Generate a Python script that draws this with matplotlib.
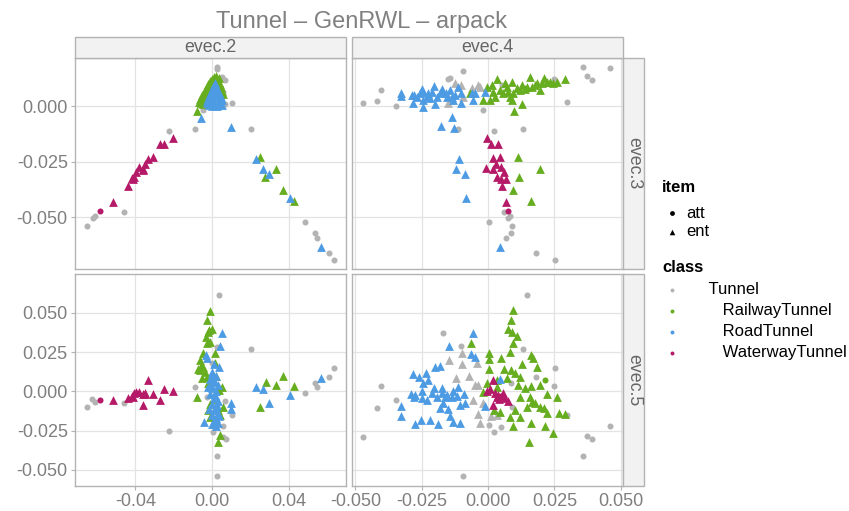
import matplotlib
matplotlib.use("Agg")
import matplotlib.pyplot as plt
from matplotlib.patches import Rectangle
import numpy as np

plt.rcParams['font.family'] = ['Liberation Sans', 'DejaVu Sans']

TITLE = "Tunnel – GenRWL – arpack"
COL_VARS = ["evec.2", "evec.4"]
ROW_VARS = ["evec.3", "evec.5"]
CLASSES = ["Tunnel", "RailwayTunnel", "RoadTunnel", "WaterwayTunnel"]
CLASS_LABELS = ["      Tunnel", "         RailwayTunnel", "         RoadTunnel", "         WaterwayTunnel"]
CLASS_COLORS = ["#B3B3B3", "#66AD1F", "#4D9BE3", "#B51A68"]
ITEMS = ["att", "ent"]

XTICKS_L = [-0.04, 0.00, 0.04]
XTICKS_R = [-0.050, -0.025, 0.000, 0.025, 0.050]
YTICKS_T = [-0.050, -0.025, 0.000]
YTICKS_B = [-0.050, -0.025, 0.000, 0.025, 0.050]

# ---------------- evec.2 (x) vs evec.3 (y) ----------------
E23_TUNNEL_ATT = [(-0.0653, -0.0541), (-0.0618, -0.0502), (-0.061, -0.0494), (-0.0457, -0.0478),
                  (-0.0225, -0.0113), (-0.0092, -0.0104), (-0.0048, -0.0018), (0.0024, 0.0177),
                  (0.0026, 0.0167), (0.005, 0.0132), (0.0067, 0.0117), (0.0057, 0.0064),
                  (0.0102, 0.0015), (0.0067, 0.0009), (0.0203, -0.0104), (0.0481, -0.0523),
                  (0.0533, -0.0572), (0.0546, -0.0595), (0.0606, -0.0662), (0.0632, -0.0692)]
E23_RAIL_ENT = [(-0.0070, 0.0020), (-0.0062, 0.0035), (-0.0055, 0.0050), (-0.0050, 0.0028),
                (-0.0045, 0.0062), (-0.0040, 0.0075), (-0.0035, 0.0045), (-0.0030, 0.0088),
                (-0.0025, 0.0060), (-0.0020, 0.0100), (-0.0015, 0.0080), (-0.0010, 0.0112),
                (-0.0005, 0.0095), (0.0000, 0.0125), (0.0005, 0.0105), (0.0010, 0.0132),
                (0.0015, 0.0118), (0.0020, 0.0138), (0.0025, 0.0122), (0.0030, 0.0110),
                (0.0035, 0.0128), (0.0040, 0.0100), (0.0045, 0.0085), (0.0050, 0.0070),
                (0.0055, 0.0055), (-0.0060, 0.0015), (-0.0048, 0.0012), (0.0002, 0.0070),
                (-0.0028, 0.0030), (0.0012, 0.0090), (0.0030, 0.0075), (0.0040, 0.0060),
                (-0.0010, 0.0050), (-0.0079, -0.0021), (0.0246, -0.0227), (0.0275, -0.032),
                (0.0331, -0.0282), (0.0365, -0.0377), (0.0426, -0.0427)]
E23_ROAD_ENT = [(0.0015, 0.0105), (0.0010, 0.0095), (0.0020, 0.0090), (0.0005, 0.0085),
                (0.0025, 0.0080), (0.0000, 0.0075), (0.0030, 0.0070), (-0.0005, 0.0065),
                (0.0035, 0.0060), (-0.0010, 0.0055), (0.0040, 0.0050), (-0.0015, 0.0045),
                (0.0045, 0.0040), (-0.0020, 0.0035), (0.0050, 0.0030), (-0.0025, 0.0025),
                (0.0010, 0.0040), (0.0020, 0.0050), (0.0000, 0.0030), (-0.0030, 0.0015),
                (0.0030, 0.0020), (0.0015, 0.0010), (-0.0008, 0.0012), (0.0040, 0.0010),
                (-0.0018, 0.0005), (0.0025, 0.0000), (0.0000, 0.0000), (0.0050, 0.0008),
                (-0.0058, -0.0051), (0.0097, -0.0095), (0.0225, -0.0237), (0.0265, -0.0282),
                (0.0294, -0.0303), (0.0402, -0.0415), (0.0565, -0.0632)]
E23_WATER_ATT = [(-0.0585, -0.0473)]
E23_WATER_ENT = [(-0.0516, -0.0431), (-0.0438, -0.0359), (-0.0417, -0.0324), (-0.0407, -0.0317),
                 (-0.0397, -0.0296), (-0.0381, -0.0272), (-0.0359, -0.0282), (-0.0348, -0.026),
                 (-0.0334, -0.0236), (-0.0307, -0.023), (-0.0272, -0.017), (-0.0249, -0.017),
                 (-0.0203, -0.0143), (-0.041, -0.0326), (-0.0362, -0.0287)]

# ---------------- evec.4 (x) vs evec.3 (y) ----------------
E43_TUNNEL_ATT = [(-0.0471, 0.0014), (-0.0417, 0.0023), (-0.0404, 0.0072), (-0.0347, 0.0),
                  (-0.0149, 0.0122), (-0.0143, 0.0126), (-0.0094, 0.0158), (-0.0113, -0.0104),
                  (-0.002, -0.0018), (0.0024, -0.0111), (0.0131, -0.0104), (0.0054, 0.0096),
                  (0.0296, 0.0018), (0.025, 0.0122), (0.036, 0.0176), (0.0372, 0.0135),
                  (0.0392, 0.0117), (0.0461, 0.0171), (0.0062, -0.0478), (0.0074, -0.0505),
                  (0.0084, -0.0494), (0.0004, -0.0523), (0.0089, -0.0539), (0.0085, -0.0572),
                  (0.0067, -0.0595), (0.018, -0.0662), (0.0251, -0.0692)]
E43_TUNNEL_ENT = [(-0.0149, 0.0014), (-0.0143, 0.0029), (-0.0124, 0.0104), (-0.0103, 0.0096),
                  (-0.0093, 0.0044), (-0.0062, 0.0081), (-0.0036, 0.0096), (-0.0030, 0.0086)]
E43_RAIL_ENT = [(-0.0068, 0.0059), (-0.0018, 0.0029), (-0.0005, 0.0089), (0.0014, 0.0096),
                (0.0033, 0.0122), (0.0045, 0.0074), (0.007, 0.0089), (0.0089, 0.0111),
                (0.0095, 0.0059), (0.0108, 0.0081), (0.0127, 0.0096), (0.0146, 0.0089),
                (0.0158, 0.0134), (0.0183, 0.0104), (0.0196, 0.0074), (0.0211, 0.0126),
                (0.0221, 0.0111), (0.0259, 0.0111), (0.029, 0.0122), (0.002, 0.0066),
                (0.0026, 0.0044), (0.0058, 0.0059), (0.0077, 0.0066), (0.0083, 0.0044),
                (0.0121, 0.0074), (0.0139, 0.0077), (0.0165, 0.0089), (0.0177, 0.0096),
                (0.0202, 0.0104), (0.0234, 0.0111), (0.0246, 0.0104), (0.0008, 0.0029),
                (0.0064, 0.0104), (0.0089, 0.0029), (0.0098, -0.0021), (0.0129, 0.0011),
                (0.0113, -0.0227), (0.0197, -0.0282), (0.0116, -0.0318), (0.0095, -0.0377),
                (0.0162, -0.0427)]
E43_ROAD_ENT = [(-0.0328, 0.0062), (-0.0329, 0.0047), (-0.0281, 0.0017), (-0.0279, 0.0051),
                (-0.025, 0.0078), (-0.0246, -0.0002), (-0.0231, 0.0044), (-0.0202, 0.0092),
                (-0.02, 0.0011), (-0.0181, 0.0059), (-0.0168, 0.0066), (-0.0156, 0.0044),
                (-0.0143, 0.0074), (-0.0131, 0.0029), (-0.0112, 0.0086), (-0.0103, 0.0014),
                (-0.0124, 0.0051), (-0.0058, 0.0029), (-0.0062, 0.0059), (-0.0049, 0.0062),
                (-0.0011, 0.0066), (-0.0269, 0.0044), (-0.0256, 0.0062), (-0.0225, 0.0059),
                (-0.0212, 0.0066), (-0.0191, 0.0044), (-0.0175, 0.0077), (-0.0158, 0.0062),
                (-0.0137, 0.0044), (-0.0103, 0.0059), (-0.0244, 0.0029), (-0.0288, 0.0051),
                (-0.0244, 0.0066), (-0.0219, 0.0036), (-0.0134, -0.0047), (-0.0178, -0.0089),
                (-0.0127, -0.0099), (-0.0108, -0.0239), (-0.0122, -0.0282), (-0.0088, -0.0303),
                (-0.0083, -0.0415), (0.0045, -0.0632)]
E43_WATER_ATT = [(0.0074, -0.0473)]
E43_WATER_ENT = [(-0.0004, -0.0144), (0.001, -0.017), (0.0039, -0.017), (0.0019, -0.0234),
                 (0.0046, -0.023), (0.003, -0.026), (-0.0008, -0.0276), (0.0018, -0.0284),
                 (0.0049, -0.0272), (0.006, -0.0296), (0.0033, -0.0318), (0.0049, -0.0326),
                 (0.0068, -0.0326), (0.0052, -0.0357), (0.0068, -0.0431)]

# ---------------- evec.2 (x) vs evec.5 (y) ----------------
E25_TUNNEL_ATT = [(-0.0653, -0.01), (-0.0624, -0.0049), (-0.061, -0.007), (-0.0457, -0.0076),
                  (-0.0225, -0.0254), (-0.0092, 0.0025), (0.0036, 0.061), (0.0023, 0.0284),
                  (0.0203, 0.0267), (0.0064, -0.0059), (0.0102, -0.0153), (0.0057, -0.022),
                  (0.007, -0.0305), (0.0058, -0.029), (0.0023, -0.0411), (0.0023, -0.054),
                  (0.0481, -0.0013), (0.0533, 0.0051), (0.0546, 0.003), (0.0606, 0.0089),
                  (0.0632, 0.0146), (-0.0029, -0.0034), (-0.002, 0.0021), (0.0005, -0.0256),
                  (0.0000, 0.018)]
E25_RAIL_ENT = [(-0.001, 0.0513), (-0.0029, 0.0453), (-0.0024, 0.0379), (-0.0019, 0.039),
                (-0.0003, 0.0394), (-0.0033, 0.0348), (-0.0029, 0.0305), (-0.0012, 0.0316),
                (0.0014, 0.0246), (-0.005, 0.0246), (-0.0064, 0.0199), (-0.0073, 0.014),
                (-0.0064, 0.0136), (-0.0055, 0.0083), (-0.0029, 0.0093), (-0.0047, 0.0157),
                (-0.0021, 0.0051), (0.0005, 0.0072), (0.0014, 0.0178), (-0.0081, -0.0034),
                (-0.0021, -0.0119), (-0.0012, -0.0161), (0.0048, 0.003), (0.0054, -0.0097),
                (0.004, -0.0278), (0.0028, -0.0324), (0.0015, -0.005), (0.003, -0.012),
                (0.002, -0.018), (-0.001, -0.008), (0.004, -0.015), (0.0035, 0.001),
                (0.0008, -0.021), (-0.004, 0.012), (-0.006, 0.016), (0.002, 0.010),
                (0.0277, 0.0057), (0.0331, 0.0038), (0.0365, 0.0097), (0.0426, 0.0034),
                (0.0246, -0.0097)]
E25_ROAD_ENT = [(0.0048, 0.0369), (0.004, 0.0288), (-0.0033, 0.0231), (-0.0026, 0.021),
                (0.0009, 0.0174), (0.0036, 0.0153), (-0.0003, 0.0104), (0.0009, 0.0072),
                (-0.0021, 0.003), (0.000, 0.012), (0.002, 0.010), (-0.001, 0.008),
                (0.001, 0.006), (0.003, 0.004), (0.000, 0.002), (0.002, 0.000),
                (-0.001, -0.002), (0.001, -0.004), (0.003, -0.006), (0.000, -0.008),
                (0.002, -0.010), (0.001, -0.012), (0.003, -0.014), (0.000, -0.015),
                (0.002, -0.017), (0.001, -0.019), (0.003, -0.020), (0.000, -0.021),
                (0.002, -0.022), (0.0015, -0.0025), (-0.0005, 0.004), (0.0025, -0.009),
                (0.0035, -0.016), (-0.0015, -0.011), (-0.0043, -0.0195), (0.0097, -0.0076),
                (0.0095, -0.0114), (0.0225, 0.003), (0.0265, 0.0015), (0.0294, -0.0076),
                (0.0402, -0.0023), (0.0565, 0.0083)]
E25_WATER_ATT = [(-0.0585, -0.0057)]
E25_WATER_ENT = [(-0.0516, -0.0053), (-0.0438, -0.004), (-0.0417, -0.003), (-0.0407, -0.0013),
                 (-0.0397, -0.0006), (-0.0381, -0.0006), (-0.0359, -0.0019), (-0.0359, -0.0087),
                 (-0.041, -0.0034), (-0.0348, -0.0019), (-0.0334, 0.0072), (-0.0307, -0.0015),
                 (-0.0272, -0.0055), (-0.0249, 0.0015), (-0.0203, 0.0), (-0.035, -0.0008)]

# ---------------- evec.4 (x) vs evec.5 (y) ----------------
E45_TUNNEL_ATT = [(-0.0471, -0.0292), (-0.0417, -0.0108), (-0.0404, 0.0032), (-0.0347, -0.0057),
                  (-0.0168, 0.0369), (-0.0102, 0.0286), (-0.0094, -0.054), (0.0147, 0.061),
                  (0.0131, 0.0267), (0.0251, 0.0146), (0.025, 0.0032), (0.018, 0.0089),
                  (0.0296, -0.015), (0.0024, -0.0256), (0.005, -0.0225), (0.0004, -0.0216),
                  (0.0089, -0.0097), (0.0085, 0.0051), (0.0372, -0.0284), (0.0392, -0.0305),
                  (0.036, -0.0411), (0.0461, -0.0222)]
E45_TUNNEL_ENT = [(-0.0148, 0.0199), (-0.0097, 0.0242), (-0.0099, 0.0172), (-0.0122, 0.0087),
                  (-0.007, 0.0097), (-0.0043, 0.0178), (-0.0039, 0.004), (-0.0055, -0.0055),
                  (-0.0036, -0.0146), (-0.003, -0.0203), (0.001, -0.0155), (0.0033, -0.015),
                  (-0.0018, -0.0076), (-0.0049, 0.004)]
E45_RAIL_ATT = [(0.0214, 0.0072)]
E45_RAIL_ENT = [(0.0094, 0.0515), (0.0088, 0.0453), (0.0075, 0.0396), (0.009, 0.0379),
                (0.0108, 0.0352), (0.0095, 0.0309), (-0.0064, 0.0305), (0.0004, 0.0246),
                (0.0082, 0.0252), (0.005, 0.021), (0.0004, 0.0203), (0.0162, 0.0231),
                (0.0168, 0.021), (0.0128, 0.0172), (0.0003, 0.0144), (0.0183, 0.0153),
                (0.006, 0.014), (0.0087, 0.0136), (0.01, 0.0119), (0.0121, 0.0093),
                (0.007, 0.0083), (0.0033, 0.0072), (0.0114, 0.004), (0.0139, 0.0019),
                (0.0162, 0.0034), (0.0196, 0.004), (0.0221, -0.0017), (0.0259, -0.0034),
                (0.0033, 0.003), (-0.0018, -0.0002), (0.0121, -0.0034), (0.0158, -0.0034),
                (0.0165, -0.0066), (0.0196, -0.0097), (0.0211, -0.0108), (0.0221, -0.014),
                (0.0146, -0.0097), (0.0102, -0.0119), (0.0083, -0.0161), (0.0045, -0.0129),
                (0.0121, -0.0161), (0.0161, -0.0203), (0.0095, -0.022), (0.0215, -0.022),
                (0.0246, -0.0267), (0.0154, -0.0322), (0.0177, -0.0076), (0.0268, -0.014),
                (0.029, -0.0144), (-0.0005, 0.0051), (0.0023, -0.0119)]
E45_ROAD_ENT = [(-0.0055, 0.0373), (-0.0148, 0.0288), (-0.0065, 0.0237), (-0.005, 0.0216),
                (-0.0281, 0.011), (-0.0259, 0.0089), (-0.0234, 0.0119), (-0.02, 0.0157),
                (-0.0181, 0.0161), (-0.0246, 0.0055), (-0.0225, 0.0072), (-0.0291, -0.0017),
                (-0.0279, -0.0034), (-0.025, 0.0004), (-0.0202, 0.0021), (-0.0175, 0.0019),
                (-0.0212, -0.0013), (-0.0193, -0.0034), (-0.0162, -0.0038), (-0.0137, -0.0034),
                (-0.0112, 0.0025), (-0.0118, -0.003), (-0.009, -0.0017), (-0.0168, -0.0076),
                (-0.0149, -0.0114), (-0.0106, -0.0087), (-0.0087, -0.0076), (-0.0143, -0.0155),
                (-0.0181, -0.0108), (-0.0329, -0.0093), (-0.0328, -0.0155), (-0.0251, -0.0182),
                (-0.0275, -0.021), (-0.0219, -0.0182), (-0.0187, -0.0208), (-0.0133, -0.0195),
                (-0.0106, -0.0203), (-0.001, -0.0093), (0.0045, 0.0081), (-0.0231, -0.0055),
                (-0.025, -0.0045), (-0.0275, -0.0023), (-0.0156, -0.0023), (-0.0131, 0.0),
                (-0.0175, -0.0013)]
E45_WATER_ATT = [(0.005, -0.003)]
E45_WATER_ENT = [(0.0018, 0.0074), (-0.0005, 0.0004), (0.0008, 0.0013), (0.0026, -0.0013),
                 (0.0039, -0.0023), (0.0051, -0.003), (0.0064, -0.0045), (0.0043, -0.0051),
                 (0.0033, -0.0034), (0.0058, -0.0013), (0.0018, -0.0087), (0.0077, -0.0059)]

PANELS = {
    (0, 0): [(E23_TUNNEL_ATT, 0, "att"), (E23_RAIL_ENT, 1, "ent"), (E23_ROAD_ENT, 2, "ent"),
             (E23_WATER_ATT, 3, "att"), (E23_WATER_ENT, 3, "ent")],
    (0, 1): [(E43_TUNNEL_ATT, 0, "att"), (E43_TUNNEL_ENT, 0, "ent"), (E43_RAIL_ENT, 1, "ent"),
             (E43_ROAD_ENT, 2, "ent"), (E43_WATER_ATT, 3, "att"), (E43_WATER_ENT, 3, "ent")],
    (1, 0): [(E25_TUNNEL_ATT, 0, "att"), (E25_RAIL_ENT, 1, "ent"), (E25_ROAD_ENT, 2, "ent"),
             (E25_WATER_ATT, 3, "att"), (E25_WATER_ENT, 3, "ent")],
    (1, 1): [(E45_TUNNEL_ATT, 0, "att"), (E45_TUNNEL_ENT, 0, "ent"), (E45_RAIL_ATT, 1, "att"),
             (E45_RAIL_ENT, 1, "ent"), (E45_ROAD_ENT, 2, "ent"), (E45_WATER_ATT, 3, "att"),
             (E45_WATER_ENT, 3, "ent")],
}

XLIMS = [(-0.0715, 0.0695), (-0.0514, 0.0509)]
YLIMS = [(-0.0734, 0.0219), (-0.0600, 0.0744)]

W, H = 849, 511
fig = plt.figure(figsize=(W / 100, H / 100), dpi=100)

def fx(px):
    return px / W

def fy(py):
    return 1 - py / H

col_px = [(74.7, 346.0), (351.7, 623.0)]
row_px = [(57.7, 269.3), (274.3, 485.7)]

GRID = "#E3E3E3"
BORDER = "#B3B3B3"
TICKCOL = "#7F7F7F"
MARK = {"att": ("o", 19), "ent": ("^", 40)}

for (r, c), layers in PANELS.items():
    x0, x1 = col_px[c]
    y0, y1 = row_px[r]
    ax = fig.add_axes([fx(x0), fy(y1), fx(x1 - x0), (y1 - y0) / H])
    ax.set_xlim(*XLIMS[c])
    ax.set_ylim(*YLIMS[r])
    ax.set_xticks(XTICKS_L if c == 0 else XTICKS_R)
    ax.set_yticks(YTICKS_T if r == 0 else YTICKS_B)
    if c == 0:
        ax.set_xticklabels([f"{v:.2f}" for v in XTICKS_L])
    else:
        ax.set_xticklabels([f"{v:.3f}" for v in XTICKS_R])
    ax.set_yticklabels([f"{v:.3f}" for v in (YTICKS_T if r == 0 else YTICKS_B)])
    ax.grid(True, color=GRID, linewidth=0.9)
    ax.set_axisbelow(True)
    for s in ax.spines.values():
        s.set_color(BORDER)
        s.set_linewidth(1.0)
    ax.tick_params(colors=BORDER, labelcolor=TICKCOL, labelsize=13, length=3, width=0.8, pad=2)
    if r == 0:
        ax.tick_params(axis="x", labelbottom=False, length=0)
    if c == 1:
        ax.tick_params(axis="y", labelleft=False, length=0)
    for pts, ci, item in layers:
        arr = np.array(pts)
        m, s = MARK[item]
        ax.scatter(arr[:, 0], arr[:, 1], marker=m, s=s, color=CLASS_COLORS[ci],
                   linewidths=0, zorder=3 + ci)

# strips
for c, name in enumerate(COL_VARS):
    x0, x1 = col_px[c]
    fig.patches.append(Rectangle((fx(x0), fy(57.7)), fx(x1 - x0), 21 / H, transform=fig.transFigure,
                                 facecolor="#F2F2F2", edgecolor=BORDER, linewidth=1.0))
    fig.text(fx((x0 + x1) / 2), fy(47.5), name, ha="center", va="center", fontsize=12.8, color="#666666")
for r, name in enumerate(ROW_VARS):
    y0, y1 = row_px[r]
    fig.patches.append(Rectangle((fx(623.0), fy(y1)), fx(21), (y1 - y0) / H, transform=fig.transFigure,
                                 facecolor="#F2F2F2", edgecolor=BORDER, linewidth=1.0))
    fig.text(fx(633.5), fy((y0 + y1) / 2), name, ha="center", va="center", fontsize=12.8,
             color="#666666", rotation=-90)

fig.text(fx(362), fy(22), TITLE, ha="center", va="center", fontsize=17, color="#808080")

# legend
lg = fig.add_axes([0, 0, 1, 1], facecolor="none")
lg.set_xlim(0, W)
lg.set_ylim(H, 0)
lg.axis("off")
lg.text(662, 187, "item", fontsize=12, fontweight="bold", va="center", ha="left", color="black")
for i, (it, yy) in enumerate(zip(ITEMS, [213, 232])):
    m, _ = MARK[it]
    lg.scatter([672], [yy], marker=m, s=12 if it == "att" else 16, color="black", linewidths=0)
    lg.text(686, yy, it, fontsize=12, va="center", ha="left", color="black")
lg.text(662, 268, "class", fontsize=12, fontweight="bold", va="center", ha="left", color="black")
for i, (lab, col) in enumerate(zip(CLASS_LABELS, CLASS_COLORS)):
    yy = 290 + i * 21
    lg.scatter([672], [yy], marker="o", s=8, color=col, linewidths=0)
    lg.text(681, yy, lab, fontsize=12, va="center", ha="left", color="black")

fig.savefig("out.png", dpi=100)
